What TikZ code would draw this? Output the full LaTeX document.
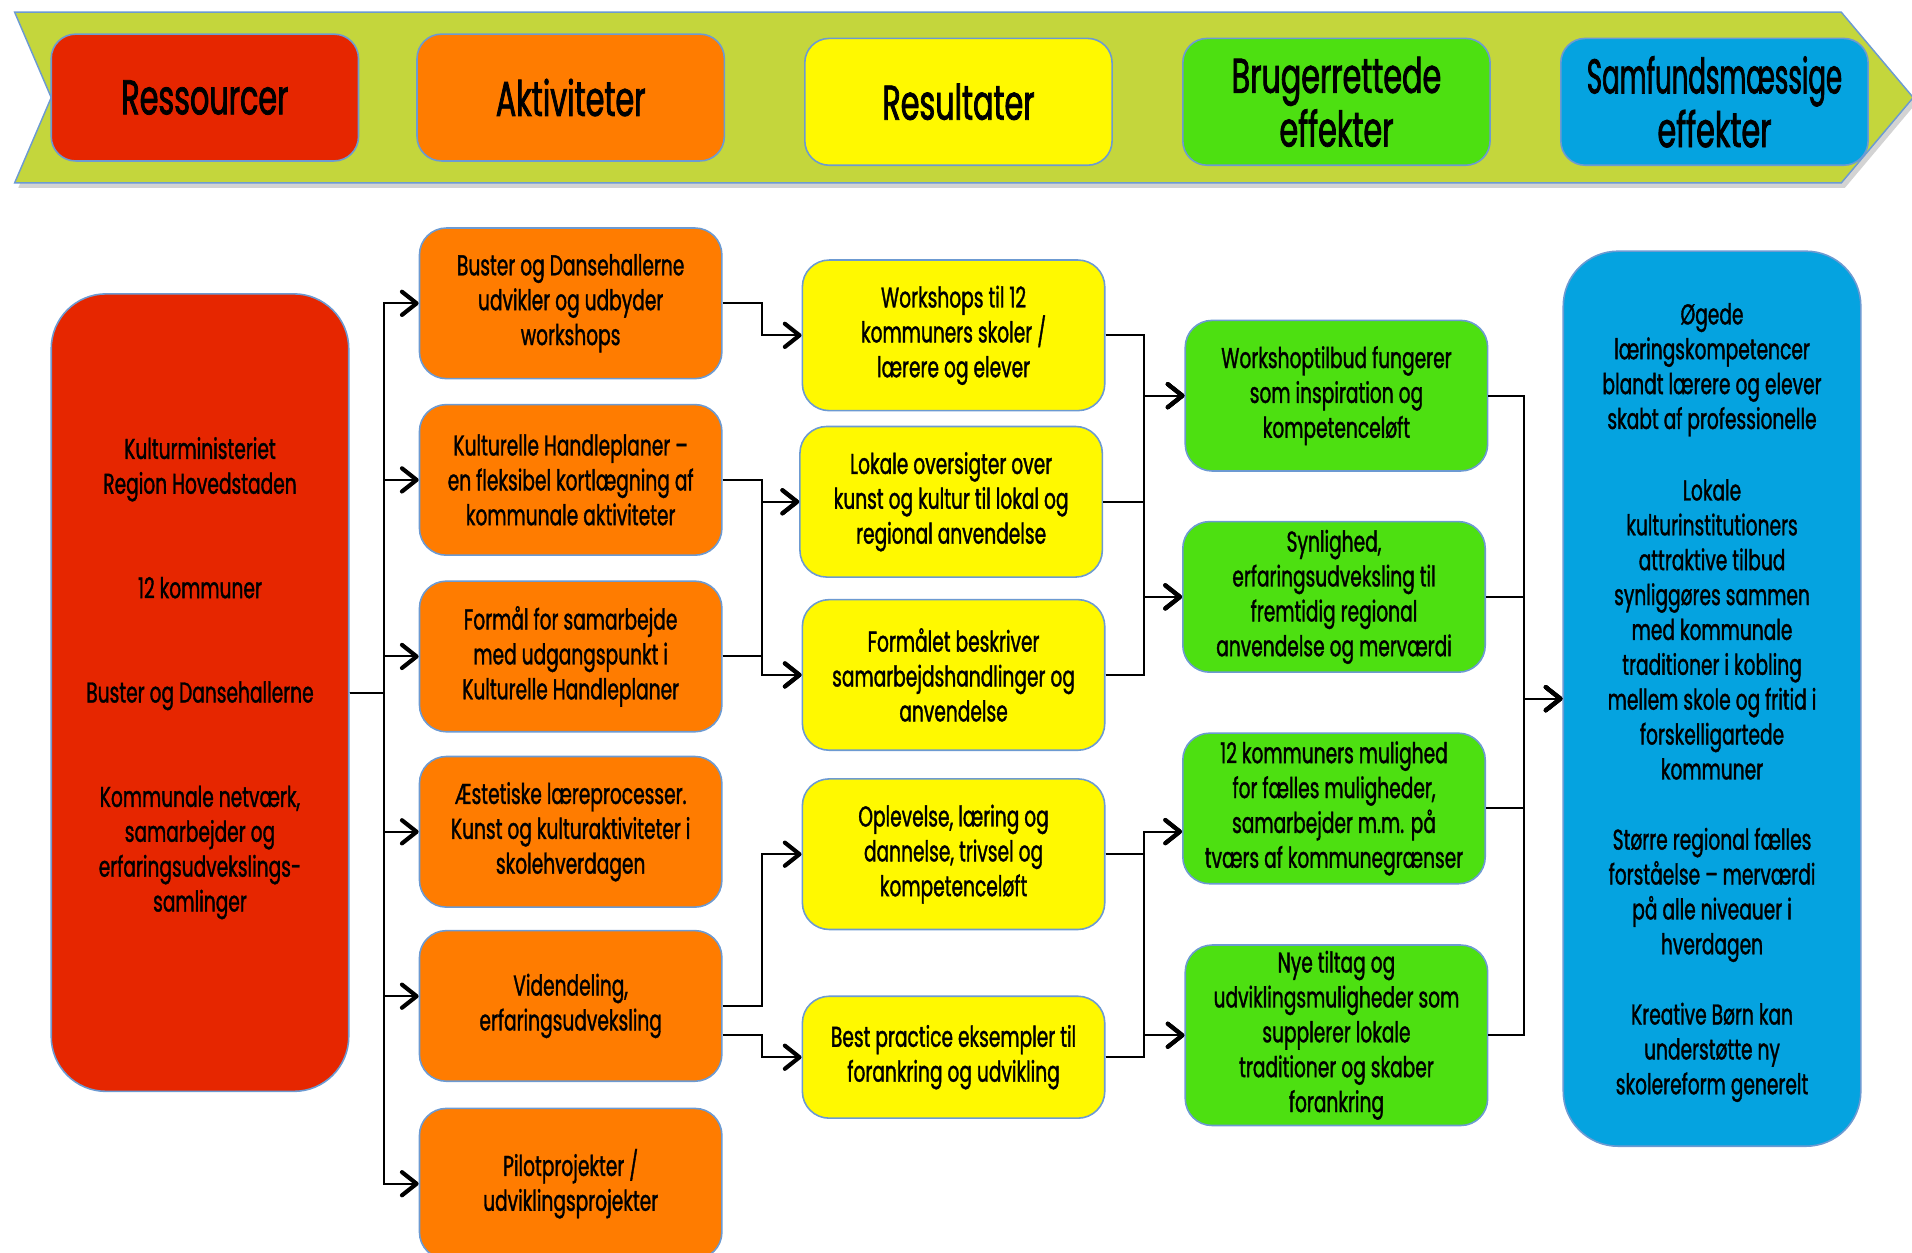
\documentclass[tikz,border=0pt]{standalone}
\usepackage{fontspec}
\setmainfont{Poppins}[FakeStretch=0.65, FakeBold=1.2]
\newfontfamily\headfamily{Poppins}[FakeStretch=0.62, FakeBold=1.6]
\usetikzlibrary{positioning, arrows.meta, shadows}

\definecolor{bandgreen}{HTML}{C4D63C}
\definecolor{edgeblue}{HTML}{6C9AD2}
\definecolor{resred}{HTML}{E62600}
\definecolor{aktorange}{HTML}{FF7C00}
\definecolor{rslyellow}{HTML}{FFF900}
\definecolor{brggreen}{HTML}{4DE011}
\definecolor{samblue}{HTML}{05A3E0}

\newcommand{\bodyfont}{\fontsize{23.5}{28.6}\selectfont}
\newcommand{\headfont}{\headfamily\fontsize{40}{44}\selectfont}

\tikzset{
  box/.style={draw=edgeblue, line width=1.3pt, rounded corners=22pt, align=center,
    font=\bodyfont, minimum width=248pt, minimum height=123.5pt, inner sep=0pt},
  head/.style={box, font=\headfont, minimum width=252pt, minimum height=104pt, rounded corners=20pt},
  arr/.style={line width=1.7pt, -{Straight Barb[length=12pt,width=19pt,line width=3.4pt,round]}},
}

\begin{document}
\begin{tikzpicture}[x=1pt, y=-1pt]
  \useasboundingbox (0,0) rectangle (1568,1027);

  % banner
  \draw[edgeblue, line width=1.2pt, fill=bandgreen,
        drop shadow={shadow xshift=3pt, shadow yshift=-4pt, opacity=0.35}]
    (12,10) -- (1510,10) -- (1569,80) -- (1510,150) -- (12,150) -- (42,80) -- cycle;

  % headers
  \node[head, fill=resred]    (hres) at (168,80)    {Ressourcer};
  \node[head, fill=aktorange] (hakt) at (468,80)    {Aktiviteter};
  \node[head, fill=rslyellow] (hrsl) at (786,83.5)  {Resultater};
  \node[head, fill=brggreen]  (hbrg) at (1096,83.5) {Brugerrettede\\effekter};
  \node[head, fill=samblue]   (hsam) at (1406,83.5) {\scalebox{0.86}[1]{Samfundsmæssige}\\effekter};

  % ressourcer
  \node[box, fill=resred, minimum width=244pt, minimum height=654pt, rounded corners=45pt, text depth=30pt]
    (res) at (164,568) {Kulturministeriet\\Region Hovedstaden\\[57pt]12 kommuner\\[57pt]Buster og Dansehallerne\\[57pt]Kommunale netværk,\\samarbejder og\\erfaringsudvekslings-\\samlinger};

  % aktiviteter
  \node[box, fill=aktorange] (o1) at (468,248.75) {Buster og Dansehallerne\\udvikler og udbyder\\workshops};
  \node[box, fill=aktorange, below=20pt of o1] (o2) {Kulturelle Handleplaner –\\en fleksibel kortlægning af\\kommunale aktiviteter};
  \node[box, fill=aktorange, below=20pt of o2] (o3) {Formål for samarbejde\\med udgangspunkt i\\Kulturelle Handleplaner};
  \node[box, fill=aktorange, below=19pt of o3] (o4) {Æstetiske læreprocesser.\\Kunst og kulturaktiviteter i\\skolehverdagen};
  \node[box, fill=aktorange, below=18pt of o4] (o5) {Videndeling,\\erfaringsudveksling};
  \node[box, fill=aktorange, below=21pt of o5] (o6) {Pilotprojekter /\\udviklingsprojekter};

  % resultater
  \node[box, fill=rslyellow] (y1) at (782,275)   {Workshops til 12\\kommuners skoler /\\lærere og elever};
  \node[box, fill=rslyellow] (y2) at (780,411.5) {Lokale oversigter over\\kunst og kultur til lokal og\\regional anvendelse};
  \node[box, fill=rslyellow] (y3) at (782,553.5) {Formålet beskriver\\samarbejdshandlinger og\\anvendelse};
  \node[box, fill=rslyellow] (y4) at (782,700.5) {Oplevelse, læring og\\dannelse, trivsel og\\kompetenceløft};
  \node[box, fill=rslyellow, minimum height=100pt] (y5) at (782,867) {Best practice eksempler til\\forankring og udvikling};

  % brugerrettede effekter
  \node[box, fill=brggreen] (g1) at (1096,324.5) {Workshoptilbud fungerer\\som inspiration og\\kompetenceløft};
  \node[box, fill=brggreen] (g2) at (1094,489.5) {Synlighed,\\erfaringsudveksling til\\fremtidig regional\\anvendelse og merværdi};
  \node[box, fill=brggreen] (g3) at (1094,663)   {12 kommuners mulighed\\for fælles muligheder,\\samarbejder m.m. på\\tværs af kommunegrænser};
  \node[box, fill=brggreen, minimum height=148pt] (g4) at (1096,849) {Nye tiltag og\\udviklingsmuligheder som\\supplerer lokale\\traditioner og skaber\\forankring};

  % samfundsmaessige effekter
  \node[box, fill=samblue, minimum width=244pt, minimum height=734pt, rounded corners=45pt, text depth=0pt]
    (sam) at (1404,573) {Øgede\\læringskompetencer\\blandt lærere og elever\\skabt af professionelle\\[30pt]Lokale\\kulturinstitutioners\\attraktive tilbud\\synliggøres sammen\\med kommunale\\traditioner i kobling\\mellem skole og fritid i\\forskelligartede\\kommuner\\[29pt]Større regional fælles\\forståelse – merværdi\\på alle niveauer i\\hverdagen\\[29pt]Kreative Børn kan\\understøtte ny\\skolereform generelt};

  % buses
  \coordinate (b0) at (315,568);
  \coordinate (b1) at (625,568);
  \coordinate (b2) at (938,568);
  \coordinate (b3) at (1250,568);
  \coordinate (o5in)   at ([yshift=8pt]o5.west);
  \coordinate (o5top)  at (o5.east);
  \coordinate (o5low)  at ([yshift=-24pt]o5.east);
  \coordinate (g3in)   at ([yshift=-19pt]g3.west);

  % ressourcer -> aktiviteter
  \foreach \n in {o1,o2,o3,o4,o6}
    \draw[arr] (res.east) -| (b0 |- \n.west) -- (\n.west);
  \draw[arr] (res.east) -| (b0 |- o5in) -- (o5in);

  % aktiviteter -> resultater
  \draw[arr] (o1.east) -| (b1 |- y1.west) -- (y1.west);
  \foreach \s in {o2,o3}
    \foreach \t in {y2,y3}
      \draw[arr] (\s.east) -| (b1 |- \t.west) -- (\t.west);
  \draw[arr] (o5top) -| (b1 |- y4.west) -- (y4.west);
  \draw[arr] (o5low) -| (b1 |- y5.west) -- (y5.west);

  % resultater -> brugerrettede effekter
  \foreach \s in {y1,y2,y3}
    \foreach \t in {g1,g2}
      \draw[arr] (\s.east) -| (b2 |- \t.west) -- (\t.west);
  \foreach \s in {y4,y5} {
    \draw[arr] (\s.east) -| (b2 |- g3in) -- (g3in);
    \draw[arr] (\s.east) -| (b2 |- g4.west) -- (g4.west);
  }

  % brugerrettede -> samfundsmaessige effekter
  \foreach \s in {g1,g2,g3,g4}
    \draw[arr] (\s.east) -| (b3 |- sam.west) -- (sam.west);
\end{tikzpicture}
\end{document}
